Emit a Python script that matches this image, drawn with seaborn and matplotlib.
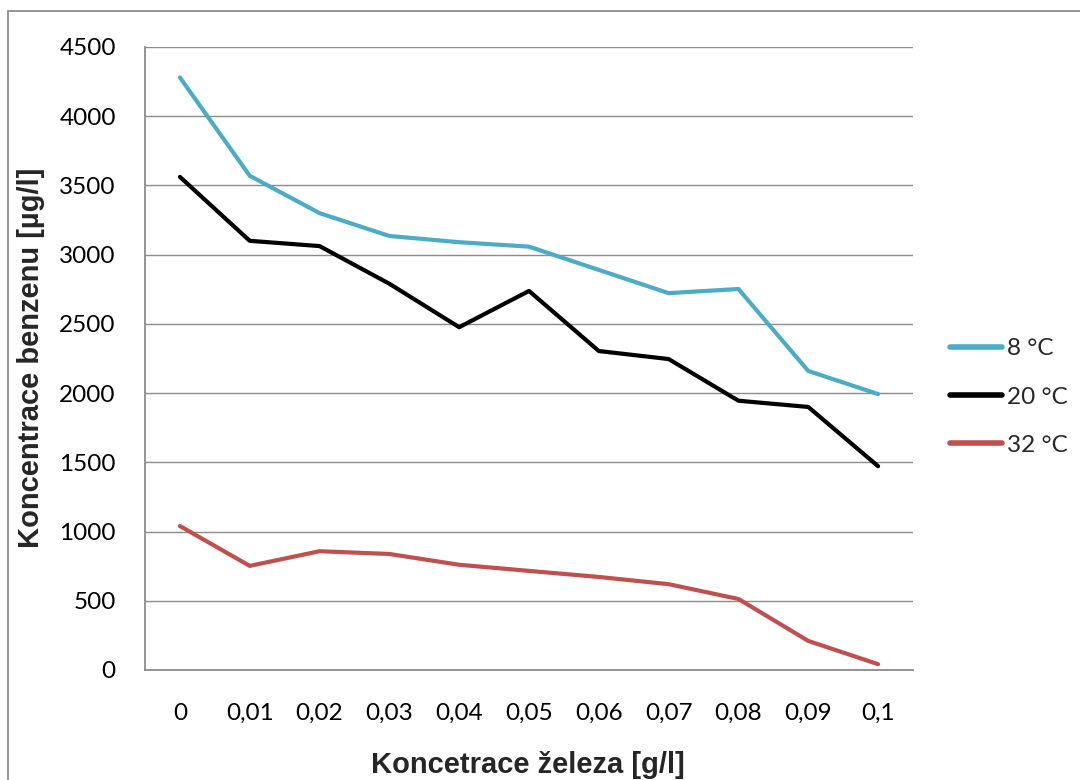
import matplotlib
matplotlib.use("Agg")
import matplotlib.pyplot as plt
import seaborn as sns
import pandas as pd
from matplotlib.patches import Rectangle

categories = ["0", "0,01", "0,02", "0,03", "0,04", "0,05", "0,06", "0,07", "0,08", "0,09", "0,1"]
t8 = [4280, 3570, 3300, 3135, 3090, 3058, 2890, 2722, 2752, 2160, 1993]
t20 = [3562, 3100, 3062, 2790, 2476, 2738, 2304, 2246, 1945, 1900, 1472]
t32 = [1040, 752, 858, 838, 760, 716, 672, 620, 513, 210, 42]
series_names = ["8 °C", "20 °C", "32 °C"]
colors = ["#4BACC6", "#000000", "#C0504D"]
yticks = [0, 500, 1000, 1500, 2000, 2500, 3000, 3500, 4000, 4500]

rows = []
for name, vals in zip(series_names, [t8, t20, t32]):
    for i, v in enumerate(vals):
        rows.append({"idx": i, "value": v, "series": name})
df = pd.DataFrame(rows)

sns.set_theme(style="white")
plt.rcParams["font.family"] = ["Lato", "DejaVu Sans"]

fig = plt.figure(figsize=(10.8, 7.8), dpi=100)
ax = fig.add_axes([145/1080, 1 - 670/780, (913-145)/1080, (670-47)/780])

sns.lineplot(data=df, x="idx", y="value", hue="series", palette=colors,
             hue_order=series_names, linewidth=3.0, ax=ax, legend=True)

FS = 17.5
n = len(categories)
ax.set_xlim(-0.5, n - 0.5)
ax.set_ylim(0, 4500)
ax.set_yticks(yticks)
ax.set_yticklabels([str(t) for t in yticks], fontsize=FS)
ax.yaxis.grid(True, color="#8c8c8c", linewidth=1.0)
ax.set_axisbelow(True)

# category labels at centers, tick marks at band boundaries
ax.set_xticks(range(n))
ax.set_xticklabels(categories, fontsize=FS)
ax.tick_params(axis="x", length=0, pad=24)
ax.set_xticks([i - 0.5 for i in range(n + 1)], minor=True)
ax.tick_params(axis="x", which="minor", length=7, width=1.2, direction="out")
ax.tick_params(axis="y", length=7, width=1.2, direction="out", pad=14)
ax.tick_params(axis="both", which="both", color="#8c8c8c", labelcolor="black")

for s in ["top", "right"]:
    ax.spines[s].set_visible(False)
for s in ["left", "bottom"]:
    ax.spines[s].set_color("#8c8c8c")
    ax.spines[s].set_linewidth(1.3)

ax.set_xlabel("")
ax.set_ylabel("")
fig.text(528/1080, 1 - 765/780, "Koncetrace železa [g/l]", ha="center", va="center",
         fontsize=21, fontweight="bold", family=["Liberation Sans", "DejaVu Sans"])
fig.text(31/1080, 1 - 358/780, "Koncentrace benzenu [µg/l]", ha="center", va="center",
         rotation=90, fontsize=21, fontweight="bold", family=["Liberation Sans", "DejaVu Sans"])

leg = ax.legend(loc="center left", bbox_to_anchor=(950/1080, 1 - 397/780),
                bbox_transform=fig.transFigure, frameon=False, fontsize=FS,
                handlelength=2.15, handletextpad=0.2, labelspacing=1.12, borderaxespad=0,
                borderpad=0)
for line in leg.get_lines():
    line.set_linewidth(4.0)

fig.patches.append(Rectangle((8/1080, -0.05), 1.2, 1 - 11/780 + 0.05, transform=fig.transFigure,
                             fill=False, edgecolor="#8c8c8c", linewidth=1.3))

fig.savefig("out.png", dpi=100)
